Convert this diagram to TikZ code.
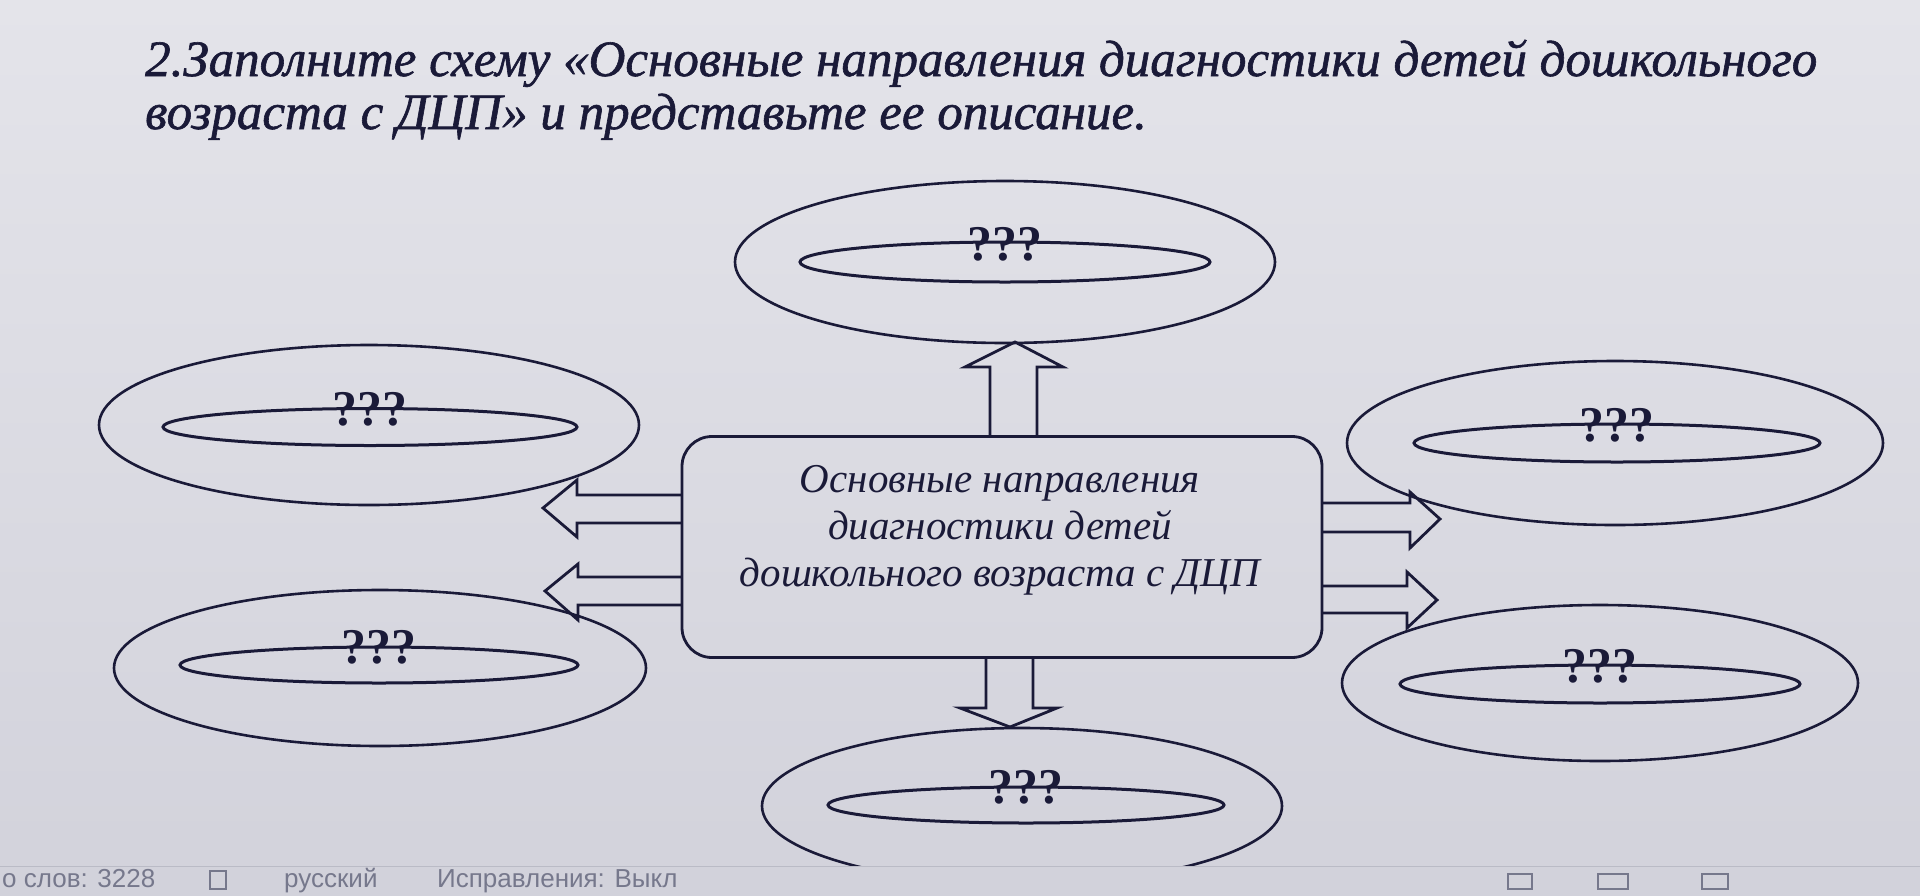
\documentclass[tikz,border=0pt]{standalone}
\usepackage{fontspec}
\setmainfont{Liberation Serif}
\newfontfamily\uisans{Liberation Sans}
\newfontfamily\titlefont[FakeBold=1.2]{Liberation Serif}
\usetikzlibrary{shapes.geometric}
\definecolor{bgtop}{RGB}{228,228,234}
\definecolor{bgbot}{RGB}{210,210,219}
\definecolor{ink}{RGB}{26,26,56}
\definecolor{uigray}{RGB}{118,120,140}
\begin{document}
\begin{tikzpicture}[x=1pt,y=-1pt,
  outer/.style={ellipse, draw=ink, line width=2.6pt, inner sep=0pt},
  innerell/.style={ellipse, draw=ink, line width=3pt, inner sep=0pt},
  qmark/.style={anchor=base, inner sep=0pt, text=ink,
    font=\fontsize{50}{50}\selectfont\bfseries},
  blk/.style={draw=ink, line width=2.8pt, line join=miter},
  title/.style={anchor=base west, inner sep=0pt, text=ink,
    font=\titlefont\fontsize{51}{60}\selectfont\itshape},
  uitext/.style={anchor=base west, inner sep=0pt, text=uigray,
    font=\uisans\fontsize{26}{26}\selectfont}]
\useasboundingbox (0,0) rectangle (1920,895);
\shade[top color=bgtop, bottom color=bgbot] (0,0) rectangle (1920,895);

% title
\node[title] (t1) at (145,76) {2.Заполните схему «Основные направления диагностики детей дошкольного};
\node[title] (t2) at (145,129) {возраста с ДЦП» и представьте ее описание.};

% centre box
\node[draw=ink, line width=2.8pt, rounded corners=30pt, minimum width=640pt,
  minimum height=221pt, inner sep=0pt] (box) at (1002,547) {};
\node[align=center, text=ink, inner sep=0pt,
  font=\fontsize{41}{47}\selectfont\itshape] (boxtext) at (1000,530)
  {Основные направления\\диагностики детей\\дошкольного возраста с ДЦП};

% outer ellipses
\node[outer, minimum width=540pt, minimum height=162pt] (eT)  at (1005,262) {};
\node[outer, minimum width=540pt, minimum height=160pt] (eL1) at (369,425) {};
\node[outer, minimum width=532pt, minimum height=156pt] (eL2) at (380,668) {};
\node[outer, minimum width=536pt, minimum height=164pt] (eR1) at (1615,443) {};
\node[outer, minimum width=516pt, minimum height=156pt] (eR2) at (1600,683) {};
\node[outer, minimum width=520pt, minimum height=156pt] (eB)  at (1022,806) {};

% inner ellipses
\node[innerell, minimum width=410pt, minimum height=40pt] (iT)  at (1005,262) {};
\node[innerell, minimum width=414pt, minimum height=37pt] (iL1) at (370,427) {};
\node[innerell, minimum width=398pt, minimum height=36pt] (iL2) at (379,665) {};
\node[innerell, minimum width=406pt, minimum height=38pt] (iR1) at (1617,443) {};
\node[innerell, minimum width=400pt, minimum height=38pt] (iR2) at (1600,684) {};
\node[innerell, minimum width=396pt, minimum height=36pt] (iB)  at (1026,805) {};

% question marks
\node[qmark] (qT)  at (1005,260) {???};
\node[qmark] (qL1) at (370,425) {???};
\node[qmark] (qL2) at (379,663) {???};
\node[qmark] (qR1) at (1617,441) {???};
\node[qmark] (qR2) at (1600,682) {???};
\node[qmark] (qB)  at (1026,803) {???};

% block arrows
\draw[blk] (990,437) -- (990,367) -- (965,367) -- (1015,342) -- (1063,367) -- (1037,367) -- (1037,437);
\draw[blk] (986,657) -- (986,708) -- (960,708) -- (1010,727) -- (1057,708) -- (1033,708) -- (1033,657);
\draw[blk] (682,495) -- (577,495) -- (577,480) -- (543,508) -- (577,537) -- (577,523) -- (682,523);
\draw[blk] (682,577) -- (578,577) -- (578,564) -- (545,591) -- (578,620) -- (578,605) -- (682,605);
\draw[blk] (1322,503) -- (1410,503) -- (1410,492) -- (1440,519) -- (1410,548) -- (1410,532) -- (1322,532);
\draw[blk] (1322,586) -- (1407,586) -- (1407,572) -- (1437,600) -- (1407,628) -- (1407,613) -- (1322,613);

% status bar
\fill[bgbot] (0,866) rectangle (1920,895);
\draw[uigray!50, line width=1pt] (0,866) -- (1920,866);
\node[uitext] (s1) at (2,887) {о слов: 3228};
\draw[uigray, line width=1.5pt] (210,871) rectangle (226,889);
\node[uitext] (s2) at (284,887) {русский};
\node[uitext] (s3) at (437,887) {Исправления: Выкл};
\draw[uigray, line width=1.5pt] (1508,874) rectangle (1532,889);
\draw[uigray, line width=1.5pt] (1598,874) rectangle (1628,889);
\draw[uigray, line width=1.5pt] (1702,874) rectangle (1728,889);
\end{tikzpicture}
\end{document}
